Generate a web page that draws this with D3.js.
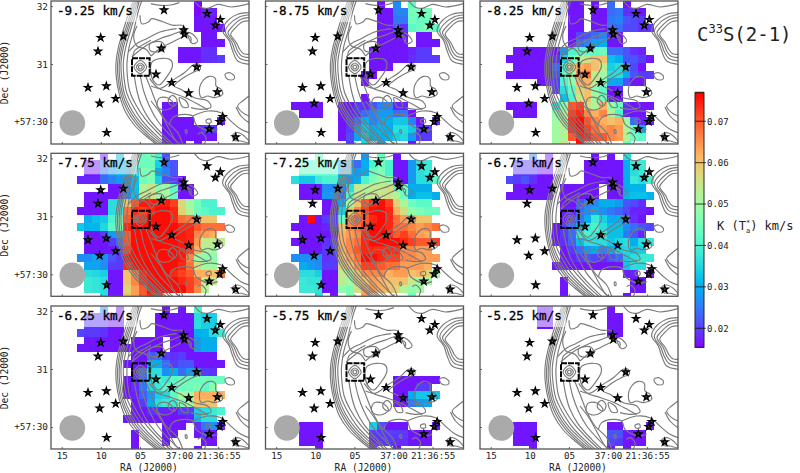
<!DOCTYPE html>
<html>
<head>
<meta charset="utf-8">
<script src="https://d3js.org/d3.v7.min.js"></script>
<style>
  html, body { margin: 0; padding: 0; background: #fff; }
  text { font-family: "DejaVu Sans Mono", monospace; fill: #222; }
</style>
</head>
<body>
<svg id="chart" width="800" height="473"></svg>
<script>
//----------------------------
// Data: channels
//----------------------------

var velocities = ["-9.25", "-8.75", "-8.25", "-7.75", "-7.25", "-6.75", "-6.25", "-5.75", "-5.25"];

// integrated intensity in mK km/s, one entry per map row: [row, first column, values...], 0 = no data
var cellsA = [
  [0, 18, 16], [1, 18, 16, 18, 18], [2, 18, 17, 17, 17], [3, 18, 17, 17, 17, 17], [4, 19, 17, 17], [5, 19, 17, 17, 17],
  [6, 16, 17, 17, 17, 19, 19], [7, 16, 17, 17, 17, 19, 19, 20],
  [13, 14, 17, 17], [14, 14, 17, 17], [15, 14, 17, 17, 17, 17, 0, 0, 0, 18],
  [16, 14, 17, 17, 17, 17, 17, 20, 20], [17, 14, 17, 17, 17, 17, 17, 17, 17], [18, 14, 17, 17, 17, 0, 17]
];
var cellsB = [
  [0, 14, 17, 0, 27, 0, 43], [1, 14, 17, 17, 26, 26, 45, 45, 45], [2, 14, 17, 17, 25, 25, 45, 43, 44],
  [3, 14, 17, 17, 22, 19, 42, 44, 46, 42], [4, 14, 17, 17, 17, 17, 0, 17, 17], [5, 14, 17, 17, 17, 17, 0, 17, 17, 17],
  [6, 13, 17, 17, 17, 17, 17, 18, 20, 20], [7, 13, 17, 17, 17, 17, 17, 19, 20, 20, 20], [8, 13, 17, 17, 17],
  [9, 12, 17, 17], [10, 12, 17], [12, 12, 17],
  [13, 3, 17, 17, 17, 17, 0, 0, 17, 17, 20, 19, 22, 26, 26, 18, 18],
  [14, 4, 17, 17, 17, 0, 0, 17, 18, 20, 24, 26, 28, 28, 24, 25, 17],
  [15, 9, 17, 19, 24, 31, 26, 29, 30, 33, 33, 26, 17, 0, 18],
  [16, 9, 17, 20, 28, 33, 30, 31, 30, 36, 36, 33, 20, 20],
  [17, 9, 17, 21, 29, 35, 31, 30, 31, 34, 35, 28, 20, 20],
  [18, 10, 20, 0, 35, 0, 29, 0, 0, 0, 17]
];
var cellsC = [
  [0, 11, 17, 17, 0, 17, 0, 24, 0, 17], [1, 11, 17, 17, 0, 17, 17, 24, 25, 19, 19, 17],
  [2, 11, 17, 17, 0, 17, 17, 25, 26, 22, 21, 20], [3, 11, 17, 17, 0, 17, 17, 24, 24, 21, 21, 19, 19],
  [4, 11, 17, 21, 22, 24, 26, 19, 17], [5, 11, 17, 24, 26, 29, 30, 17, 17],
  [6, 4, 17, 17, 17, 17, 17, 17, 28, 40, 42, 42, 43, 44, 24, 24, 22, 19, 18],
  [7, 3, 17, 17, 17, 17, 17, 17, 19, 34, 44, 52, 56, 60, 60, 32, 30, 22, 22, 20, 17],
  [8, 4, 17, 17, 17, 17, 17, 24, 40, 57, 62, 64, 60, 54, 34, 36, 30, 21, 17],
  [9, 3, 17, 17, 17, 17, 17, 17, 22, 42, 50, 66, 68, 53, 50, 36, 36, 30, 22, 20, 20],
  [10, 7, 17, 17, 20, 40, 48, 62, 62, 54, 46, 30, 29, 22, 17, 17],
  [11, 9, 20, 36, 42, 58, 60, 48, 42, 17, 19],
  [12, 10, 32, 40, 55, 60, 50, 44, 17, 17],
  [13, 3, 17, 17, 17, 17, 0, 0, 38, 46, 70, 72, 56, 52, 62, 48, 44, 19, 17, 17, 17],
  [14, 4, 17, 17, 17, 0, 0, 48, 52, 72, 74, 66, 62, 66, 52, 40, 18, 17, 17],
  [15, 9, 50, 52, 74, 76, 70, 66, 62, 60, 62, 50, 24, 18, 18],
  [16, 9, 50, 52, 74, 76, 72, 68, 64, 66, 64, 52, 44, 30],
  [17, 9, 50, 52, 70, 76, 74, 70, 70, 66, 64, 52, 44, 42],
  [18, 9, 50, 54, 0, 76, 0, 0, 0, 0, 0, 44]
];
var cellsD = [
  [0, 6, 17, 0, 31, 0, 0, 44, 45, 40, 22],
  [1, 4, 17, 17, 24, 28, 30, 30, 40, 44, 44, 34, 24, 22],
  [2, 4, 17, 17, 24, 28, 30, 30, 36, 46, 46, 30, 26, 22],
  [3, 3, 18, 18, 18, 24, 26, 28, 28, 32, 44, 46, 34, 22, 20, 17],
  [4, 7, 17, 17, 28, 32, 52, 55, 48, 50, 42, 17, 17],
  [5, 4, 17, 17, 17, 17, 17, 26, 32, 54, 56, 50, 50, 44, 17, 17],
  [6, 4, 17, 17, 17, 36, 36, 60, 70, 75, 75, 75, 75, 72, 57, 50, 45, 40, 40],
  [7, 3, 17, 17, 17, 17, 36, 38, 68, 74, 72, 74, 76, 76, 74, 58, 52, 44, 42, 40, 40],
  [8, 4, 30, 32, 33, 40, 46, 70, 72, 74, 76, 76, 76, 74, 68, 67, 62, 60, 60],
  [9, 3, 33, 31, 31, 35, 42, 46, 74, 76, 76, 76, 76, 76, 76, 74, 74, 70, 68, 68, 68],
  [10, 4, 17, 17, 20, 28, 30, 70, 76, 76, 76, 76, 76, 76, 75, 74, 66, 64, 62],
  [11, 4, 17, 17, 17, 20, 24, 70, 76, 76, 76, 76, 76, 76, 75, 74, 64, 54, 54, 54],
  [12, 4, 17, 17, 17, 17, 20, 72, 76, 76, 76, 76, 76, 76, 75, 72, 62, 52, 50],
  [13, 3, 27, 27, 29, 27, 22, 20, 76, 76, 76, 76, 76, 76, 76, 75, 66, 50, 48, 48],
  [14, 4, 29, 29, 27, 20, 20, 74, 76, 76, 76, 76, 76, 76, 74, 68, 56, 50, 50],
  [15, 4, 36, 35, 34, 17, 17, 60, 66, 74, 76, 76, 76, 74, 72, 70, 62, 62, 60, 68],
  [16, 4, 38, 37, 36, 17, 17, 60, 66, 74, 76, 76, 76, 76, 74, 72, 68, 54, 54],
  [17, 4, 38, 37, 36, 17, 17, 58, 64, 70, 76, 76, 76, 76, 76, 72, 66, 52],
  [18, 6, 36, 17, 17, 60, 64, 70, 74, 74]
];
var cellsE = [
  [0, 6, 42, 0, 0, 0, 0, 0, 28, 0, 44, 0, 17],
  [1, 4, 42, 42, 42, 42, 42, 30, 30, 24, 30, 40, 44, 40, 17, 17, 28, 36, 38],
  [2, 4, 42, 42, 42, 42, 42, 30, 30, 28, 30, 44, 46, 40, 17, 17, 28, 36, 38],
  [3, 3, 36, 33, 33, 38, 40, 40, 32, 28, 30, 40, 46, 50, 48, 17, 17, 28, 36, 36, 42],
  [4, 4, 17, 17, 17, 27, 27, 26, 36, 54, 52, 54, 54, 56, 42, 44, 30, 30, 30],
  [5, 4, 17, 17, 17, 28, 28, 24, 40, 55, 53, 55, 55, 55, 52, 44, 30, 32, 32, 30],
  [6, 7, 17, 17, 30, 50, 60, 70, 74, 76, 72, 58, 52, 44, 42, 42],
  [7, 7, 17, 17, 34, 58, 66, 72, 76, 76, 74, 62, 56, 48, 46, 44, 44],
  [8, 4, 17, 76, 17, 20, 20, 44, 64, 68, 70, 74, 76, 74, 68, 64, 62, 60, 60],
  [9, 3, 17, 17, 17, 17, 18, 20, 60, 66, 68, 72, 76, 76, 74, 68, 68, 66, 64, 66, 68],
  [10, 4, 17, 17, 17, 17, 17, 62, 64, 66, 74, 76, 76, 74, 70, 72, 68, 64, 62],
  [11, 3, 17, 17, 17, 17, 19, 20, 62, 66, 68, 74, 76, 76, 76, 76, 74, 72, 70, 70, 72],
  [12, 4, 17, 17, 17, 20, 20, 62, 66, 70, 74, 74, 74, 74, 74, 66, 66, 64, 64],
  [13, 3, 27, 27, 27, 27, 19, 20, 60, 64, 68, 76, 76, 74, 72, 72, 66, 66, 64, 64, 64],
  [14, 4, 30, 28, 27, 20, 20, 58, 60, 66, 72, 72, 70, 68, 68, 64, 64, 64, 62],
  [15, 4, 36, 36, 34, 17, 17, 54, 52, 60, 66, 66, 66, 62, 64, 64, 60, 62, 58, 50],
  [16, 4, 38, 37, 37, 17, 17, 54, 50, 58, 60, 64, 62, 60, 60, 60, 54, 50, 50],
  [17, 4, 38, 38, 37, 17, 17, 48, 46, 56, 62, 64, 62, 60, 58, 52, 48, 50],
  [18, 6, 36, 0, 17, 0, 46, 0, 64, 0, 0, 0, 0, 0, 44]
];
var cellsF = [
  [0, 6, 26, 0, 17, 0, 0, 0, 0, 0, 17, 0, 17, 0, 36],
  [1, 4, 20, 20, 20, 17, 17, 0, 0, 0, 0, 17, 17, 17, 17, 17, 30, 38, 38],
  [2, 4, 20, 20, 20, 17, 17, 0, 0, 0, 0, 17, 17, 17, 17, 17, 30, 36, 38],
  [3, 3, 21, 20, 22, 19, 17, 17, 0, 0, 0, 0, 17, 17, 17, 17, 17, 30, 38, 36, 40],
  [4, 4, 17, 17, 17, 17, 17, 0, 17, 17, 17, 17, 17, 0, 17, 17, 30, 31, 31],
  [5, 3, 17, 17, 17, 17, 17, 17, 0, 17, 17, 17, 17, 17, 0, 17, 17, 31, 32, 32, 31],
  [6, 10, 17, 17, 22, 26, 27, 30, 30, 28, 22, 21, 19],
  [7, 10, 18, 18, 24, 27, 29, 27, 25, 23, 21, 18, 18, 17],
  [8, 10, 17, 20, 25, 30, 38, 34, 30, 30, 24, 19, 17],
  [9, 9, 17, 20, 24, 31, 38, 40, 36, 32, 32, 27, 24, 22, 21],
  [10, 9, 17, 20, 24, 38, 40, 38, 38, 32, 32, 25, 22, 18],
  [11, 9, 17, 19, 23, 32, 36, 36, 36, 33, 35, 36, 30, 36, 38],
  [12, 10, 17, 20, 24, 28, 30, 26, 30, 34, 35, 33, 34],
  [13, 10, 17, 18, 20, 22, 21, 19, 22, 24, 34, 36, 38, 38],
  [14, 9, 17, 17, 17, 17, 17, 17, 17, 17, 17, 33, 36, 36],
  [15, 18, 18, 18, 0, 17],
  [16, 10, 17, 0, 0, 0, 0, 0, 0, 0, 0, 17, 17],
  [17, 10, 17, 0, 0, 0, 0, 0, 0, 0, 0, 17, 17],
  [18, 10, 17, 0, 0, 0, 0, 0, 0, 0, 17]
];
var cellsG = [
  [0, 6, 27, 0, 17, 0, 0, 0, 0, 0, 17, 0, 17, 0, 40],
  [1, 4, 20, 20, 20, 17, 17, 0, 0, 0, 0, 17, 17, 17, 17, 17, 36, 34, 34],
  [2, 4, 20, 20, 20, 17, 17, 0, 0, 0, 0, 17, 17, 17, 17, 17, 36, 34, 34],
  [3, 3, 21, 20, 20, 19, 17, 17, 0, 0, 0, 0, 17, 17, 17, 17, 17, 30, 31, 36, 38],
  [4, 4, 17, 17, 17, 17, 17, 0, 17, 17, 17, 17, 0, 17, 17, 17, 28, 30, 30],
  [5, 3, 17, 17, 17, 17, 17, 17, 17, 17, 17, 17, 17, 0, 17, 17, 17, 28, 30, 30],
  [6, 10, 17, 17, 22, 24, 20, 19, 20, 17, 17, 17, 17],
  [7, 9, 17, 17, 17, 30, 30, 24, 20, 22, 22, 17, 17, 17, 17],
  [8, 10, 18, 24, 36, 36, 27, 30, 24, 28, 24, 20, 19],
  [9, 9, 17, 20, 24, 36, 40, 38, 42, 44, 44, 44, 44, 44, 44],
  [10, 9, 17, 19, 25, 35, 38, 42, 42, 44, 44, 46, 42, 48],
  [11, 9, 17, 18, 23, 28, 34, 35, 42, 50, 50, 62, 62, 62, 62],
  [12, 10, 17, 20, 30, 36, 38, 38, 46, 50, 60, 60, 60],
  [13, 10, 17, 17, 19, 18, 18, 17, 20, 20, 34, 36, 38, 40],
  [14, 9, 17, 17, 17, 17, 17, 17, 17, 17, 18, 32, 36, 36],
  [15, 14, 17, 17, 17, 0, 19, 25, 27, 18],
  [16, 10, 17, 0, 0, 0, 17, 17, 0, 0, 17, 20, 17],
  [17, 10, 17, 0, 0, 0, 17, 0, 0, 0, 0, 17, 17],
  [18, 10, 17, 0, 0, 0, 0, 0, 0, 0, 17]
];
var cellsH = [
  [9, 16, 17, 17, 17, 17, 17, 17], [10, 16, 17, 17, 17, 20, 20], [11, 16, 17, 17, 30, 33, 33, 33], [12, 16, 17, 17, 25, 28, 29],
  [15, 4, 17, 17, 17, 0, 0, 0, 0, 0, 0, 34, 22, 17, 17, 17, 0, 0, 0, 17],
  [16, 4, 17, 17, 17, 0, 0, 0, 0, 0, 0, 20, 20, 20, 20, 20, 17, 17, 17],
  [17, 4, 17, 17, 17, 0, 0, 0, 0, 0, 0, 18, 20, 20, 19, 19, 17, 17, 17],
  [18, 6, 17, 0, 0, 0, 0, 0, 0, 17, 0, 0, 17]
];
var cellsI = [
  [0, 7, 17, 17, 0, 0, 0, 0, 0, 0, 0, 17], [1, 7, 17, 17, 0, 0, 0, 0, 0, 0, 0, 17, 17], [2, 7, 17, 17, 0, 0, 0, 0, 0, 0, 0, 17, 17],
  [3, 16, 17, 17],
  [15, 4, 17, 17, 17, 0, 0, 0, 0, 0, 0, 0, 0, 0, 17, 17, 0, 0, 0, 17],
  [16, 4, 17, 17, 17, 0, 0, 0, 0, 0, 0, 0, 0, 0, 22, 22, 17, 17, 17],
  [17, 4, 17, 17, 17, 0, 0, 0, 0, 0, 0, 0, 0, 0, 21, 20, 17, 17, 17],
  [18, 6, 17, 0, 0, 0, 0, 0, 0, 0, 0, 0, 17, 0, 17]
];
var channelCells = [cellsA, cellsB, cellsC, cellsD, cellsE, cellsF, cellsG, cellsH, cellsI];

//----------------------------
// Data: axis ticks and colour bar
//----------------------------

var raTicks = [15, 10, 5, 0, -5];
var raLabels = ["15", "10", "05", "37:00", "21:36:55"];
var decTicks = [32, 31, 30];
var decLabels = ["32", "31", "+57:30"];
var barTicks = [0.02, 0.03, 0.04, 0.05, 0.06, 0.07];

//----------------------------
// Data: stars and dust contours, in map units (1/3 pixel from the panel corner)
//----------------------------

var stars = [
  [149, 110], [217, 106], [141, 151], [111, 260], [166, 255], [194, 293], [146, 307], [167, 395],
  [339, 27], [468, 38], [508, 56], [493, 73], [398, 87], [400, 100], [331, 142], [437, 198],
  [315, 220], [362, 245], [413, 276], [499, 273], [515, 347], [506, 362], [475, 384], [554, 408]
];

var contourLines = [
  // edge of the cloud
  [[247, 0], [232, 40], [216, 90], [202, 140], [195, 185], [196, 230], [205, 280], [222, 330], [250, 372], [285, 405], [315, 429]],
  [[252, 0], [238, 40], [222, 90], [207, 140], [200, 185], [201, 230], [210, 280], [227, 325], [255, 368], [292, 405], [322, 429]],
  [[256, 0], [243, 40], [227, 90], [212, 140], [205, 185], [206, 230], [215, 280], [232, 322], [260, 365], [298, 403], [330, 429]],
  [[260, 0], [248, 40], [232, 90], [217, 140], [210, 185], [212, 230], [220, 278], [238, 320], [266, 362], [304, 400], [337, 429]],
  [[265, 0], [253, 40], [238, 90], [224, 140], [217, 185], [219, 230], [227, 275], [246, 316], [273, 358], [310, 398], [345, 429]],
  [[272, 0], [262, 30], [248, 90], [234, 140], [228, 185], [229, 225], [236, 270], [255, 312], [282, 353], [318, 393], [356, 429]],
  // ridge south of the square
  [[250, 225], [258, 270], [270, 310], [295, 355], [335, 400], [365, 429]],
  [[268, 225], [278, 270], [295, 315], [320, 360], [355, 400], [385, 429]],
  [[284, 225], [300, 265], [322, 320], [345, 360], [380, 395], [395, 429]],
  [[300, 300], [330, 340], [352, 380], [375, 420], [385, 429]],
  [[296, 232], [322, 262], [352, 272], [398, 288], [445, 312], [470, 326]],
  // north part
  [[267, 43], [272, 68], [292, 63], [302, 53], [337, 63], [367, 73], [392, 73], [407, 88], [402, 98], [420, 110], [418, 125]],
  [[242, 168], [287, 133], [327, 113], [357, 103], [397, 88]],
  [[232, 153], [257, 128], [287, 113], [327, 93], [377, 83]],
  [[300, 165], [330, 140], [360, 125], [395, 108]],
  [[258, 75], [248, 105], [258, 135], [285, 145], [300, 165]],
  [[245, 170], [250, 150], [262, 140], [300, 118]],
  [[300, 8], [330, 13], [360, 12], [385, 5]],
  [[430, 0], [448, 18], [470, 22], [500, 10], [540, 18], [594, 8]],
  // east side
  [[594, 35], [560, 40], [525, 65], [515, 90], [535, 120], [545, 150], [560, 180], [594, 190]],
  [[594, 42], [565, 48], [533, 72], [523, 92], [543, 125], [552, 150], [566, 172], [594, 180]],
  [[594, 50], [570, 55], [541, 80], [531, 95], [550, 125], [560, 150], [572, 165], [594, 170]],
  [[594, 60], [575, 62], [549, 85], [539, 100], [556, 125], [566, 145], [578, 158], [594, 160]],
  [[594, 285], [575, 300], [560, 315], [575, 335], [594, 345]],
  [[555, 318], [570, 345], [594, 365]],
  // long filament through the map
  [[300, 255], [328, 262], [350, 250], [362, 240], [400, 215], [430, 190], [445, 190], [448, 205], [430, 212], [395, 232], [370, 255], [390, 265], [430, 290], [470, 300], [480, 318], [450, 325], [420, 320]],
  // south east
  [[355, 372], [365, 350], [400, 340], [425, 345], [435, 370], [475, 390], [500, 385]],
  [[425, 345], [470, 330], [510, 335], [545, 365], [570, 385], [594, 395]],
  [[440, 400], [450, 395], [465, 410], [460, 429]]
];

var contourLoops = [
  [[304, 182], [334, 172], [359, 177], [364, 197], [344, 232], [324, 252], [309, 242], [299, 212]],
  [[324, 292], [349, 290], [369, 312], [344, 327], [319, 317]],
  [[352, 295], [365, 283], [378, 298], [370, 315], [355, 308]],
  [[385, 290], [405, 300], [412, 318], [395, 318]],
  [[297, 128], [332, 123], [342, 143], [317, 153], [297, 148]],
  [[410, 95], [425, 100], [440, 120], [425, 128], [415, 115]],
  [[445, 270], [455, 240], [475, 226], [493, 232], [495, 255], [510, 265], [515, 280], [490, 290], [470, 285], [452, 290]],
  [[522, 220], [535, 215], [550, 225], [548, 235], [530, 235]],
  [[545, 402], [560, 395], [585, 410], [594, 425], [570, 420], [550, 418]],
  [[465, 358], [478, 354], [480, 365], [468, 366]],
  [[403, 387], [407, 387], [408, 396], [404, 396]],
  // rings inside the square
  [[262, 198], [268, 192], [274, 198], [268, 204]],
  [[256, 198], [268, 186], [280, 198], [268, 210]],
  [[249, 198], [268, 178], [287, 198], [268, 218]]
];

//----------------------------
// Layout and scales
//----------------------------

var panelW = 198, panelH = 143;
var panelX = [51, 265.5, 480];
var panelY = [1, 153.3, 306];

var svg = d3.select("#chart");

var mapX = d3.scaleLinear().domain([0, 594]).range([0, panelW]);
var mapY = d3.scaleLinear().domain([0, 429]).range([0, panelH]);

// grid cells, 1 column = 1 s of RA
var colX = d3.scaleLinear().domain([0, 1]).range([mapX(6.8), mapX(30.2)]);
var rowY = d3.scaleLinear().domain([0, 1]).range([mapY(-2), mapY(21.4)]);

var raScale = d3.scaleLinear().domain([16.37, -8.95]).range([0, panelW]);
var decScale = d3.scaleLinear().domain([32.087, 29.62]).range([0, panelH]);

var barScale = d3.scaleLinear().domain([0.0154, 0.0769]).range([347.3, 92.7]);

// same shape as the matplotlib rainbow map
function rainbow(t) {
    var r = Math.abs(2 * t - 0.5);
    var g = Math.sin(Math.PI * t);
    var b = Math.cos(Math.PI * t / 2);
    return d3.rgb(Math.min(r, 1) * 255, g * 255, b * 255);
}
var colorScale = d3.scaleSequential(rainbow).domain([0.0154, 0.0769]);

var lineOpen = d3.line().x(d => mapX(d[0])).y(d => mapY(d[1])).curve(d3.curveCatmullRom);
var lineLoop = d3.line().x(d => mapX(d[0])).y(d => mapY(d[1])).curve(d3.curveCatmullRomClosed);
var starPath = d3.symbol().type(d3.symbolStar).size(15);

svg.append("defs").append("clipPath")
    .attr("id", "panel-clip")
    .append("rect")
    .attr("width", panelW)
    .attr("height", panelH);

//----------------------------
// Draw panels
//----------------------------

velocities.forEach(function (vel, i) {
    var col = i % 3, row = Math.floor(i / 3);
    var g = svg.append("g")
        .attr("transform", "translate(" + panelX[col] + "," + panelY[row] + ")");
    var inner = g.append("g").attr("clip-path", "url(#panel-clip)");

    // intensity cells
    var cells = [];
    channelCells[i].forEach(function (r) {
        r.slice(2).forEach(function (v, j) {
            if (v > 0) cells.push({ m: r[0], k: r[1] + j, v: v / 1000 });
        });
    });
    inner.selectAll("rect.cell")
        .data(cells)
        .enter()
        .append("rect")
        .attr("class", "cell")
        .attr("x", d => colX(d.k))
        .attr("y", d => rowY(d.m))
        .attr("width", colX(1) - colX(0) + 0.2)
        .attr("height", rowY(1) - rowY(0) + 0.2)
        .attr("fill", d => colorScale(d.v))
        .attr("shape-rendering", "crispEdges");

    // contours
    inner.selectAll("path.open")
        .data(contourLines)
        .enter()
        .append("path")
        .attr("class", "open")
        .attr("d", lineOpen)
        .attr("fill", "none")
        .attr("stroke", "#7a7a7a")
        .attr("stroke-width", 1.15);
    inner.selectAll("path.loop")
        .data(contourLoops)
        .enter()
        .append("path")
        .attr("class", "loop")
        .attr("d", lineLoop)
        .attr("fill", "none")
        .attr("stroke", "#7a7a7a")
        .attr("stroke-width", 1.15);

    // beam
    inner.append("circle")
        .attr("cx", mapX(64))
        .attr("cy", mapY(366))
        .attr("r", mapX(38.5))
        .attr("fill", "#aaaaaa");

    // square around the source
    inner.append("rect")
        .attr("x", mapX(243))
        .attr("y", mapY(172))
        .attr("width", mapX(53))
        .attr("height", mapY(52))
        .attr("fill", "none")
        .attr("stroke", "#000")
        .attr("stroke-width", 2)
        .attr("stroke-dasharray", "6 1");

    // stars
    inner.selectAll("path.star")
        .data(stars)
        .enter()
        .append("path")
        .attr("class", "star")
        .attr("d", starPath)
        .attr("transform", d => "translate(" + mapX(d[0]) + "," + mapY(d[1]) + ")")
        .attr("fill", "#444")
        .attr("stroke", "#000")
        .attr("stroke-width", 1.3);

    // channel label
    inner.append("rect")
        .attr("width", 86)
        .attr("height", 21)
        .attr("fill", "#fff")
        .attr("opacity", 0.55);
    g.append("text")
        .attr("x", 6)
        .attr("y", 13.5)
        .attr("font-size", 12.6)
        .attr("stroke", "#000")
        .attr("stroke-width", 0.3)
        .style("fill", "#000")
        .text(vel + " km/s");

    // frame and axes
    var axisX = d3.axisBottom(raScale)
        .tickValues(raTicks)
        .tickSize(-2)
        .tickFormat(function (d, j) { return row === 2 ? raLabels[j] : ""; });
    var axisY = d3.axisLeft(decScale)
        .tickValues(decTicks)
        .tickSize(-2)
        .tickFormat(function (d, j) { return col === 0 ? decLabels[j] : ""; });

    var gx = g.append("g").attr("transform", "translate(0," + panelH + ")").call(axisX);
    var gy = g.append("g").call(axisY);
    gx.select(".domain").remove();
    gy.select(".domain").remove();
    gx.selectAll("text").attr("font-size", 9.2).attr("y", 3).attr("dy", "0.8em");
    gy.selectAll("text").attr("font-size", 9.4).attr("x", -3);
    gx.selectAll("line").attr("stroke", "#666");
    gy.selectAll("line").attr("stroke", "#666");

    g.append("rect")
        .attr("width", panelW)
        .attr("height", panelH)
        .attr("fill", "none")
        .attr("stroke", "#555")
        .attr("stroke-width", 1.3);

    if (row === 2) {
        g.append("text")
            .attr("x", panelW / 2 - 1)
            .attr("y", panelH + 22)
            .attr("text-anchor", "middle")
            .attr("font-size", 9.6)
            .text("RA (J2000)");
    }
    if (col === 0) {
        g.append("text")
            .attr("transform", "translate(-43," + (panelH / 2) + ") rotate(-90)")
            .attr("text-anchor", "middle")
            .attr("font-size", 9.6)
            .text("Dec (J2000)");
    }
});

//----------------------------
// Colour bar
//----------------------------

var barX = 695, barW = 9;
var barSteps = d3.range(0, 256);
var barLevel = d3.scaleLinear().domain([0, 255]).range(barScale.domain());

svg.append("g").selectAll("rect")
    .data(barSteps)
    .enter()
    .append("rect")
    .attr("x", barX)
    .attr("y", d => barScale(barLevel(d)) - 1)
    .attr("width", barW)
    .attr("height", 1.6)
    .attr("fill", d => colorScale(barLevel(d)));

var barAxis = d3.axisRight(barScale)
    .tickValues(barTicks)
    .tickSize(0)
    .tickPadding(3)
    .tickFormat(d3.format(".2f"));

var gBar = svg.append("g")
    .attr("transform", "translate(" + (barX + barW) + ",0)")
    .call(barAxis);
gBar.select(".domain").remove();
gBar.selectAll("text").attr("font-size", 9);

svg.append("g").selectAll("line")
    .data(barTicks)
    .enter()
    .append("line")
    .attr("x1", barX)
    .attr("x2", barX + barW + 2)
    .attr("y1", d => barScale(d))
    .attr("y2", d => barScale(d))
    .attr("stroke", "#000")
    .attr("stroke-opacity", 0.75);

svg.append("rect")
    .attr("x", barX)
    .attr("y", barScale.range()[1])
    .attr("width", barW)
    .attr("height", barScale.range()[0] - barScale.range()[1])
    .attr("fill", "none")
    .attr("stroke", "#222");

//----------------------------
// Title and units
//----------------------------

var title = svg.append("text")
    .attr("x", 697)
    .attr("y", 41)
    .attr("font-size", 19);
title.append("tspan").text("C");
title.append("tspan").attr("font-size", 12).attr("dy", -8).text("33");
title.append("tspan").attr("dy", 8).text("S(2-1)");

var units = svg.append("text")
    .attr("x", 717)
    .attr("y", 230)
    .attr("font-size", 12);
units.append("tspan").text("K (T");
units.append("tspan").attr("font-size", 7).attr("dy", -5).text("*");
units.append("tspan").attr("font-size", 7).attr("dy", 8).attr("dx", -4.2).text("a");
units.append("tspan").attr("dy", -3).text(") km/s");
</script>
</body>
</html>
